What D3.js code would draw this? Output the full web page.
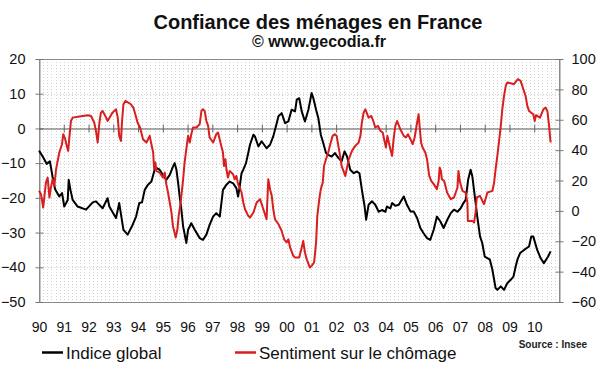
<!DOCTYPE html>
<html>
<head>
<meta charset="utf-8">
<script src="https://cdn.jsdelivr.net/npm/d3@7"></script>
<style>
  html, body { margin: 0; padding: 0; background: #fff; }
  svg { display: block; font-family: "Liberation Sans", Arial, sans-serif; }
</style>
</head>
<body>
<svg id="chart" width="600" height="372"></svg>
<script>
// Indice global (left axis) — decimal year / value
const indiceDates = [1990.00,1990.15,1990.31,1990.44,1990.55,1990.65,1990.82,1990.93,1991.02,1991.16,1991.20,1991.27,1991.36,1991.56,1991.90,
  1992.17,1992.30,1992.57,1992.77,1992.84,1993.11,1993.24,1993.41,1993.58,1993.78,1993.92,1994.05,1994.16,1994.27,1994.40,1994.54,1994.67,
  1994.74,1994.87,1995.01,1995.14,1995.28,1995.41,1995.48,1995.55,1995.62,1995.68,1995.75,1995.82,1995.95,1996.02,1996.15,1996.29,1996.49,
  1996.62,1996.76,1996.89,1997.03,1997.16,1997.30,1997.43,1997.57,1997.70,1997.84,1997.97,1998.04,1998.10,1998.18,1998.25,1998.36,1998.45,
  1998.52,1998.66,1998.72,1998.86,1998.99,1999.19,1999.33,1999.46,1999.60,1999.67,1999.80,1999.94,2000.07,2000.20,2000.34,2000.41,2000.51,
  2000.61,2000.74,2000.88,2001.01,2001.08,2001.19,2001.28,2001.38,2001.48,2001.59,2001.68,2001.82,2001.95,2002.09,2002.22,2002.34,2002.44,
  2002.57,2002.71,2002.84,2002.94,2003.04,2003.15,2003.21,2003.31,2003.45,2003.58,2003.72,2003.85,2003.99,2004.05,2004.19,2004.26,2004.39,
  2004.53,2004.73,2004.86,2005.00,2005.13,2005.27,2005.40,2005.53,2005.67,2005.80,2005.94,2006.07,2006.21,2006.34,2006.49,2006.63,2006.76,
  2006.90,2007.03,2007.14,2007.23,2007.33,2007.43,2007.50,2007.60,2007.70,2007.81,2007.90,2008.00,2008.21,2008.31,2008.38,2008.44,2008.51,
  2008.65,2008.78,2008.91,2009.05,2009.16,2009.25,2009.32,2009.43,2009.59,2009.79,2009.88,2009.96,2010.12,2010.26,2010.39,2010.56,2010.66];
const indiceValues = [-6.4,-8.1,-10.2,-9.5,-14,-17.5,-19.6,-18.6,-22.5,-20.6,-14.8,-17.7,-20.6,-22.5,-23.4,
  -21.3,-21.0,-23.0,-20.1,-22.5,-25.8,-21.5,-29.2,-30.6,-27.8,-25.4,-21.5,-21.3,-17.7,-16.2,-15.3,-11.9,
  -11.4,-11.9,-13.4,-14.8,-13.4,-11.0,-10.0,-11.9,-15.8,-19.6,-23.4,-28.2,-33.0,-29.2,-27.3,-29.2,-31.6,
  -32.1,-30.6,-27.8,-25.4,-24.4,-25.4,-17.7,-16.2,-15.3,-15.8,-17.2,-19.6,-17.0,-12.9,-11.9,-10.0,-7.1,
  -4.7,-1.8,-2.3,-5.2,-3.7,-5.7,-4.7,-2.3,1.5,3.5,4.4,1.5,2.0,5.4,4.9,8.3,8.7,
  4.9,2.0,5.4,10.2,8.7,5.4,3.0,-1.8,-4.2,-7.1,-7.6,-8.1,-7.1,-8.5,-9.5,-6.6,-8.1,
  -11.9,-12.9,-12.4,-12.9,-17.7,-22.5,-26.3,-22.0,-21.0,-22.0,-24.0,-23.5,-24.0,-22.5,-23.0,-21.5,-22.3,
  -22.0,-19.6,-22.0,-23.9,-23.9,-25.8,-28.7,-30.2,-31.6,-32.1,-29.2,-25.4,-26.8,-28.7,-26.3,-24.4,-23.4,
  -24.0,-23.0,-21.5,-20.6,-14.8,-11.9,-13.8,-19.6,-25.4,-31.1,-33.0,-36.9,-37.8,-40.7,-43.6,-46.0,-46.5,
  -45.5,-46.5,-44.6,-43.6,-42.7,-39.8,-37.8,-35.9,-35.0,-34.0,-31.1,-31.1,-35.0,-37.4,-38.8,-36.9,-35.4];

// Sentiment sur le chômage (right axis)
const chomageDates = [1990.00,1990.08,1990.17,1990.28,1990.35,1990.42,1990.48,1990.55,1990.62,1990.69,1990.82,1990.93,1990.98,1991.06,1991.12,
  1991.18,1991.22,1991.29,1991.36,1991.63,1991.97,1992.10,1992.23,1992.30,1992.37,1992.44,1992.50,1992.57,1992.71,1992.77,1992.97,1993.11,
  1993.18,1993.24,1993.31,1993.35,1993.41,1993.49,1993.71,1993.81,1993.89,1993.98,1994.08,1994.20,1994.34,1994.47,1994.54,1994.61,1994.65,
  1994.70,1994.74,1994.87,1995.01,1995.08,1995.14,1995.21,1995.28,1995.35,1995.41,1995.52,1995.59,1995.64,1995.72,1995.82,1995.88,1995.95,
  1996.02,1996.09,1996.15,1996.22,1996.36,1996.49,1996.56,1996.62,1996.69,1996.76,1996.83,1996.89,1997.03,1997.16,1997.23,1997.36,1997.43,
  1997.47,1997.53,1997.57,1997.63,1997.70,1997.84,1997.90,1997.97,1998.04,1998.10,1998.18,1998.25,1998.32,1998.45,1998.52,1998.66,1998.79,
  1998.93,1999.06,1999.19,1999.26,1999.33,1999.40,1999.46,1999.53,1999.67,1999.80,1999.90,2000.00,2000.07,2000.14,2000.27,2000.34,2000.51,
  2000.61,2000.67,2000.74,2000.81,2000.94,2001.01,2001.11,2001.19,2001.24,2001.32,2001.38,2001.46,2001.51,2001.59,2001.68,2001.78,2001.86,
  2001.95,2002.02,2002.09,2002.16,2002.22,2002.32,2002.37,2002.51,2002.64,2002.77,2002.91,2002.98,2003.04,2003.11,2003.18,2003.31,2003.42,
  2003.52,2003.58,2003.69,2003.79,2003.88,2004.01,2004.07,2004.19,2004.26,2004.32,2004.39,2004.46,2004.59,2004.73,2004.82,2004.90,2005.00,
  2005.09,2005.17,2005.27,2005.33,2005.43,2005.49,2005.60,2005.67,2005.76,2005.84,2005.94,2006.07,2006.14,2006.18,2006.23,2006.27,2006.36,
  2006.48,2006.63,2006.76,2006.90,2006.94,2006.99,2007.10,2007.23,2007.30,2007.32,2007.50,2007.57,2007.63,2007.68,2007.81,2007.97,2008.11,
  2008.31,2008.38,2008.44,2008.51,2008.58,2008.65,2008.71,2008.78,2008.85,2008.91,2009.05,2009.18,2009.34,2009.45,2009.56,2009.65,2009.72,
  2009.79,2009.96,2010.02,2010.07,2010.23,2010.37,2010.46,2010.53,2010.60,2010.66];
const chomageValues = [13.2,11.0,2.2,18.7,21.9,8.8,15.4,20.8,16.5,27.4,38.4,43.9,50.5,47.2,42.8,
  39.5,47.2,59.2,61.4,62.1,63.0,62.5,58.2,52.7,45.0,58.2,64.7,65.8,61.4,59.2,64.7,66.9,
  61.4,49.4,46.1,58.2,70.2,72.4,70.2,68.0,63.6,58.2,54.9,47.2,45.0,49.4,43.9,38.4,27.4,
  31.8,26.3,25.2,21.9,25.2,17.6,12.1,5.5,-1.1,-9.9,-17.6,-12.1,-3.3,5.5,20.8,31.8,40.6,
  49.4,45.0,50.5,54.9,54.9,57.1,65.8,66.9,65.8,59.2,56.0,48.3,45.0,50.5,51.6,42.8,38.4,
  29.6,34.0,27.4,21.9,26.3,24.1,20.8,23.0,17.6,15.4,12.1,5.5,1.1,-3.3,-4.4,-1.1,5.5,
  7.7,1.1,-5.5,20.8,14.3,9.9,1.1,-5.5,-8.8,-13.2,-18.7,-20.8,-18.7,-24.1,-29.6,-30.7,-30.7,
  -24.1,-19.8,-27.4,-31.8,-37.3,-36.2,-34.0,-20.8,-3.3,7.7,14.3,18.7,29.6,34.0,38.4,45.0,49.4,
  50.5,49.4,42.8,36.2,29.6,25.2,23.0,34.0,39.5,42.8,45.0,49.4,58.2,64.7,66.9,61.4,62.5,
  58.2,54.9,56.0,52.7,51.6,41.7,49.4,40.6,36.2,47.2,56.0,59.2,53.8,49.4,48.3,50.5,47.2,
  43.9,48.3,58.2,63.6,45.0,41.7,38.4,34.0,23.0,19.8,17.6,14.3,19.8,28.5,26.3,20.8,19.8,
  12.1,7.7,8.8,15.4,26.3,19.8,13.2,12.1,5.5,-6.6,-6.6,-7.7,-1.1,8.8,9.9,4.4,12.1,
  13.2,18.7,27.4,36.2,46.1,56.0,66.9,75.7,82.3,84.5,84.0,83.4,86.7,85.6,80.1,75.7,69.1,
  65.8,63.6,59.2,63.0,61.4,66.9,68.0,65.8,56.0,45.0];

const years = d3.range(1990, 2011);
const leftTicks = [20, 10, 0, -10, -20, -30, -40, -50];
const rightTicks = [100, 80, 60, 40, 20, 0, -20, -40, -60];

const svg = d3.select("#chart");
const L = 39, R = 559, T = 59, B = 302;

const x = d3.scaleLinear().domain([1990, 2011]).range([L, R]);
const yL = d3.scaleLinear().domain([-50, 20]).range([B, T]);
const yR = d3.scaleLinear().domain([-60, 100]).range([B, T]);

// titles
svg.append("text").attr("x", 318).attr("y", 29).attr("text-anchor", "middle")
  .attr("font-size", 20).attr("font-weight", "bold").attr("fill", "#111")
  .text("Confiance des ménages en France");
svg.append("text").attr("x", 319).attr("y", 47).attr("text-anchor", "middle")
  .attr("font-size", 16).attr("font-weight", "bold").attr("fill", "#111")
  .text("© www.gecodia.fr");

// dotted grid (every 2 months vertically, major ticks horizontally)
const grid = svg.append("g").attr("stroke", "#d2d2d2").attr("stroke-width", 1).attr("stroke-dasharray", "1,2");
d3.range(1, 126).forEach(k => {
  const gx = Math.round(x(1990 + k / 6)) + 0.5;
  grid.append("line").attr("x1", gx).attr("x2", gx).attr("y1", T).attr("y2", B);
});
leftTicks.filter(v => v !== 0 && v !== 20 && v !== -50).forEach(v => {
  const gy = Math.round(yL(v)) + 0.5;
  grid.append("line").attr("x1", L).attr("x2", R).attr("y1", gy).attr("y2", gy);
});

// frame
svg.append("rect").attr("x", L + 0.5).attr("y", T + 0.5).attr("width", R - L).attr("height", B - T)
  .attr("fill", "none").attr("stroke", "#8a8a8a");

// left axis
const gLeft = svg.append("g").attr("transform", `translate(${L + 0.5},0)`)
  .call(d3.axisLeft(yL).tickValues(leftTicks).tickSizeInner(4).tickSizeOuter(0).tickPadding(10).tickFormat(d3.format("d")));
gLeft.selectAll(".tick line").attr("x1", 4).attr("stroke", "#777");
gLeft.select(".domain").attr("stroke", "#8a8a8a");
gLeft.selectAll("text").attr("font-size", 14.5).attr("fill", "#111").attr("font-family", "Liberation Sans, Arial, sans-serif");

// right axis
const gRight = svg.append("g").attr("transform", `translate(${R + 0.5},0)`)
  .call(d3.axisRight(yR).tickValues(rightTicks).tickSizeInner(4).tickSizeOuter(0).tickPadding(8).tickFormat(d3.format("d")));
gRight.selectAll(".tick line").attr("x1", -4).attr("stroke", "#777");
gRight.select(".domain").attr("stroke", "#8a8a8a");
gRight.selectAll("text").attr("font-size", 14.5).attr("fill", "#111").attr("font-family", "Liberation Sans, Arial, sans-serif");

// zero line with year ticks
const gZero = svg.append("g").attr("transform", `translate(0,${Math.round(yL(0)) + 0.5})`)
  .call(d3.axisBottom(x).tickValues(years.slice(1)).tickSizeInner(4).tickSizeOuter(0).tickFormat(""));
gZero.selectAll(".tick line").attr("y1", -4).attr("stroke", "#666");
gZero.select(".domain").attr("stroke", "#555");

// year labels at bottom
const gX = svg.append("g").attr("transform", `translate(0,${B})`)
  .call(d3.axisBottom(x).tickValues(years).tickSize(0).tickPadding(20).tickFormat(d => String(d).slice(2)));
gX.select(".domain").remove();
gX.selectAll("text").attr("font-size", 14).attr("fill", "#111").attr("font-family", "Liberation Sans, Arial, sans-serif");

// series
const lineL = d3.line().x(d => x(d[0])).y(d => yL(d[1]));
const lineR = d3.line().x(d => x(d[0])).y(d => yR(d[1]));
svg.append("path").datum(d3.zip(indiceDates, indiceValues))
  .attr("d", lineL).attr("fill", "none").attr("stroke", "#000").attr("stroke-width", 2).attr("stroke-linejoin", "round");
svg.append("path").datum(d3.zip(chomageDates, chomageValues))
  .attr("d", lineR).attr("fill", "none").attr("stroke", "#d81e1e").attr("stroke-width", 2).attr("stroke-linejoin", "round");

// legend
const legend = [
  { label: "Indice global", color: "#000", x: 42 },
  { label: "Sentiment sur le chômage", color: "#d81e1e", x: 235 }
];
legend.forEach(d => {
  svg.append("line").attr("x1", d.x).attr("x2", d.x + 21).attr("y1", 352.5).attr("y2", 352.5)
    .attr("stroke", d.color).attr("stroke-width", 2.5);
  svg.append("text").attr("x", d.x + 24).attr("y", 359).attr("font-size", 17).attr("fill", "#111").text(d.label);
});

svg.append("text").attr("x", 587).attr("y", 348).attr("text-anchor", "end")
  .attr("font-size", 10).attr("font-weight", "bold").attr("fill", "#222").text("Source : Insee");
</script>
</body>
</html>
